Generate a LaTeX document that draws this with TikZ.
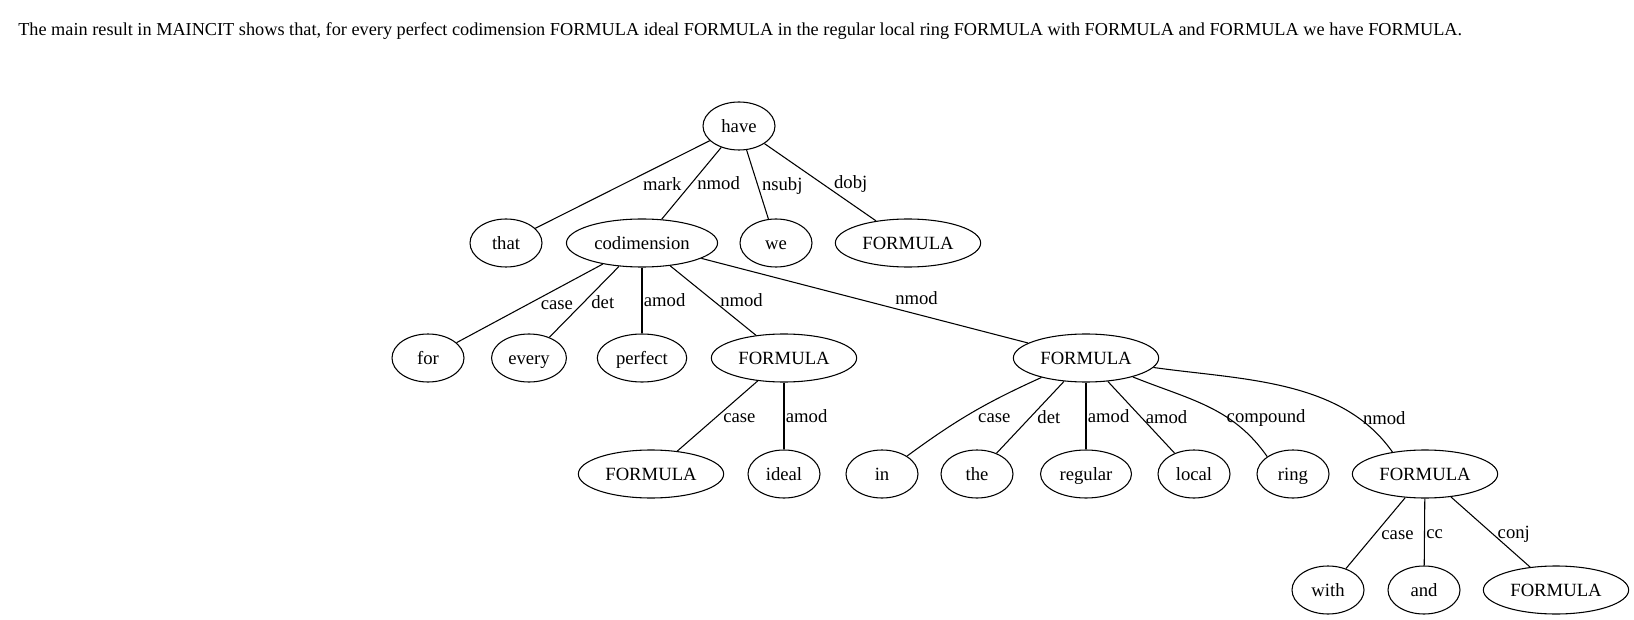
\documentclass[tikz,border=0pt]{standalone}
\usepackage{fontspec}
\setmainfont{Liberation Serif}
\usetikzlibrary{shapes.geometric}
\begin{document}
\begin{tikzpicture}[
        x=0.75pt, y=0.75pt,
        word/.style={draw, ellipse, line width=0.8pt, minimum width=54pt, minimum height=36pt, inner xsep=4.3pt, inner ysep=2pt, text height=11pt, text depth=1.4pt, font=\fontsize{14}{16}\selectfont},
        dep/.style={line width=0.8pt},
        dep_label/.style={right, inner sep=1pt, text height=11pt, text depth=1.4pt, font=\fontsize{14}{16}\selectfont}
    ]
    \useasboundingbox (0,0) rectangle (1634,-620);

    % Sentence at the top
    \node[anchor=west, inner sep=0pt, font=\fontsize{13.7}{16}\selectfont] (sentence) at (18,-31) {The main result in MAINCIT shows that, for every perfect codimension FORMULA ideal FORMULA in the regular local ring FORMULA with FORMULA and FORMULA we have FORMULA.};

    % Root
    \node[word] (have) at (739,-126) {have};

    % Second row
    \node[word] (that) at (506,-243) {that};
    \node[word] (codim) at (642,-243) {codimension};
    \node[word] (we) at (776,-243) {we};
    \node[word] (f1) at (908,-243) {FORMULA};

    % Third row
    \node[word] (for) at (428,-358) {for};
    \node[word] (every) at (529,-358) {every};
    \node[word] (perfect) at (642,-358) {perfect};
    \node[word] (f2) at (784,-358) {FORMULA};
    \node[word] (f3) at (1086,-358) {FORMULA};

    % Fourth row
    \node[word] (f4) at (651,-474) {FORMULA};
    \node[word] (ideal) at (784,-474) {ideal};
    \node[word] (in) at (882,-474) {in};
    \node[word] (the) at (977,-474) {the};
    \node[word] (regular) at (1086,-474) {regular};
    \node[word] (local) at (1194,-474) {local};
    \node[word] (ring) at (1293,-474) {ring};
    \node[word] (f5) at (1425,-474) {FORMULA};

    % Bottom row
    \node[word] (with) at (1328,-590) {with};
    \node[word] (and) at (1424,-590) {and};
    \node[word] (f6) at (1556,-590) {FORMULA};

    % Dependencies of have
    \draw[dep] (have) -- node[dep_label, xshift=14pt] {mark} (that);
    \draw[dep] (have) -- node[dep_label, xshift=3pt] {nmod} (codim);
    \draw[dep] (have) -- node[dep_label, xshift=2pt] {nsubj} (we);
    \draw[dep] (have) -- node[dep_label, xshift=9pt] {dobj} (f1);

    % Dependencies of codimension
    \draw[dep] (codim) -- node[dep_label, xshift=7pt] {case} (for);
    \draw[dep] (codim) -- node[dep_label, xshift=4pt] {det} (every);
    \draw[dep] (codim) -- node[dep_label] {amod} (perfect);
    \draw[dep] (codim) -- node[dep_label, xshift=4pt] {nmod} (f2);
    \draw[dep] (codim) -- node[dep_label, pos=0.6, anchor=south west, xshift=-3pt, yshift=1pt] {nmod} (f3);

    % Dependencies of the first FORMULA
    \draw[dep] (f2) -- node[dep_label, xshift=3pt] {case} (f4);
    \draw[dep] (f2) -- node[dep_label] {amod} (ideal);

    % Dependencies of the second FORMULA
    \draw[dep] (f3) to[bend right=6] node[dep_label, pos=0.55, xshift=8pt] {case} (in);
    \draw[dep] (f3) -- node[dep_label, xshift=4pt] {det} (the);
    \draw[dep] (f3) -- node[dep_label] {amod} (regular);
    \draw[dep] (f3) -- node[dep_label, xshift=2pt] {amod} (local);
    \draw[dep] (f3) to[out=-22, in=125] node[dep_label, pos=0.63] {compound} (ring.146);
    \draw[dep] (f3) to[out=-8, in=125, looseness=0.9] node[dep_label, pos=0.81, xshift=2pt] {nmod} (f5.146);

    % Dependencies of the last FORMULA
    \draw[dep] (f5) -- node[dep_label, xshift=3pt] {case} (with);
    \draw[dep] (f5) -- node[dep_label] {cc} (and);
    \draw[dep] (f5) -- node[dep_label, xshift=4pt] {conj} (f6);

\end{tikzpicture}
\end{document}
